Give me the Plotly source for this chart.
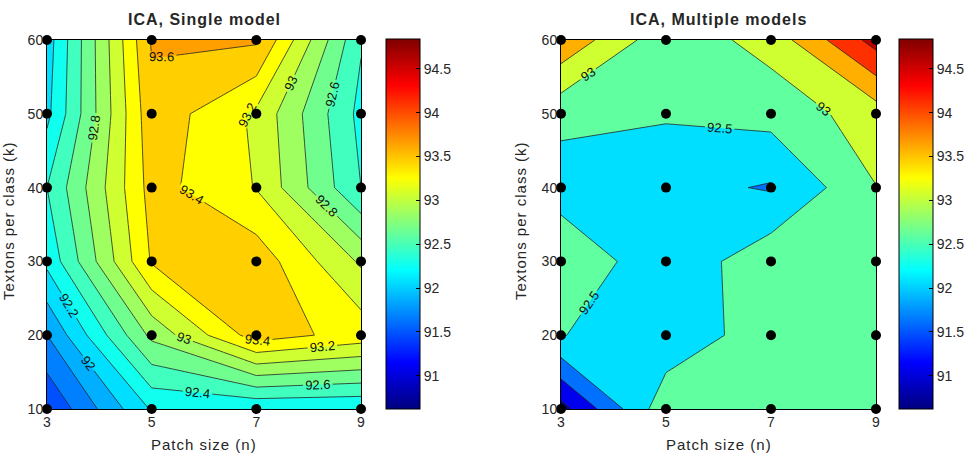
import math
import plotly.graph_objects as go

# ---------------- data ----------------
patch_sizes = [3, 5, 7, 9]
textons_per_class = [10, 20, 30, 40, 50, 60]

# rows = textons per class (10..60), columns = patch size (3,5,7,9)
single_model = [
    [91.41, 92.22, 92.22, 92.21],
    [91.80, 92.85, 93.50, 93.32],
    [92.25, 93.42, 93.52, 92.97],
    [92.40, 93.48, 93.19, 92.40],
    [92.15, 93.54, 93.16, 92.34],
    [92.10, 93.62, 93.63, 92.42],
]
multiple_models = [
    [90.80, 92.83, 92.70, 92.72],
    [92.52, 92.16, 92.77, 92.75],
    [92.94, 92.12, 92.84, 92.80],
    [92.24, 92.18, 91.95, 92.99],
    [92.65, 92.55, 92.68, 93.25],
    [93.90, 92.66, 93.20, 94.70],
]
colorbar_ticks = [91, 91.5, 92, 92.5, 93, 93.5, 94, 94.5]
color_min, color_max = 90.62, 94.84
titles = ["ICA, Single model", "ICA, Multiple models"]
x_title = "Patch size (n)"
y_title = "Textons per class (k)"

FONT = "Liberation Sans, Arial, Helvetica, sans-serif"
TXT = "#262626"
W, H = 972, 462


def clip01(v):
    return max(0.0, min(1.0, v))


def jet(t):
    r = clip01(1.5 - abs(4 * t - 3))
    g = clip01(1.5 - abs(4 * t - 2))
    b = clip01(1.5 - abs(4 * t - 1))
    return "rgb(%d,%d,%d)" % (round(r * 255), round(g * 255), round(b * 255))


def level_color(level):
    # MATLAB-like: 64-entry jet, region coloured from its lower level
    T = (level + 0.05 - color_min) / (color_max - color_min)
    i = int(math.floor(T * 64)) + 1
    i = max(1, min(64, i))
    return jet(i / 64.0)


def fill_scale(start, size, nlev):
    stops = []
    for k in range(nlev + 1):
        lev = start + (k - 1) * size
        stops.append([k / nlev, level_color(lev)])
    return stops


jet_scale = [[i / 64.0, jet(i / 64.0)] for i in range(65)]

# layout geometry (pixels)
plot_x = [(47, 361), (561, 876)]
plot_top, plot_bot = 40, 409
cbar_x = [386, 899]
cbar_top, cbar_bot = 39, 409

contour_specs = [
    (single_model, 91.4, 93.6, 0.2),
    (multiple_models, 91.0, 94.5, 0.5),
]

fig = go.Figure()
grid_x = [x for y in textons_per_class for x in patch_sizes]
grid_y = [y for y in textons_per_class for x in patch_sizes]

for idx, (z, start, end, size) in enumerate(contour_specs):
    xa = "x" if idx == 0 else "x2"
    ya = "y" if idx == 0 else "y2"
    nlev = int(math.floor((end + size * 1e-6 - start) / size)) + 1
    fig.add_trace(go.Contour(
        x=patch_sizes, y=textons_per_class, z=z,
        autocontour=False,
        contours=dict(start=start, end=end, size=size, coloring="fill",
                      showlabels=True,
                      labelfont=dict(size=13, color="#111111", family=FONT)),
        colorscale=fill_scale(start, size, nlev),
        showscale=False,
        line=dict(color="#262626", width=0.8, smoothing=0),
        hoverinfo="skip",
        xaxis=xa, yaxis=ya,
    ))
    # colorbar carrier
    fig.add_trace(go.Scatter(
        x=[patch_sizes[0]], y=[textons_per_class[0]], mode="markers",
        marker=dict(size=1, color=[92.0], colorscale=jet_scale,
                    cmin=color_min, cmax=color_max, showscale=True,
                    colorbar=dict(
                        x=cbar_x[idx] / W, xanchor="left", xpad=0,
                        y=(H - cbar_bot) / H, yanchor="bottom", ypad=0,
                        len=(cbar_bot - cbar_top) / H, lenmode="fraction",
                        thickness=34, thicknessmode="pixels",
                        outlinecolor="black", outlinewidth=1,
                        tickvals=colorbar_ticks,
                        ticktext=[("%g" % v) for v in colorbar_ticks],
                        ticks="inside", ticklen=4, tickcolor="black",
                        tickfont=dict(size=14, color=TXT, family=FONT),
                    )),
        showlegend=False, hoverinfo="skip",
        xaxis=xa, yaxis=ya,
    ))
    fig.add_trace(go.Scatter(
        x=grid_x, y=grid_y, mode="markers",
        marker=dict(color="black", size=10),
        cliponaxis=False, showlegend=False, hoverinfo="skip",
        xaxis=xa, yaxis=ya,
    ))

axis_common = dict(
    showline=True, linecolor="black", linewidth=1, mirror="ticks",
    ticks="inside", ticklen=4, tickcolor="black", showgrid=False,
    zeroline=False, automargin=False,
    tickfont=dict(size=14, color=TXT, family=FONT),
)
ydom = [(H - plot_bot) / H, (H - plot_top) / H]
layout = dict(
    width=W, height=H,
    margin=dict(l=0, r=0, t=0, b=0, pad=0, autoexpand=False),
    paper_bgcolor="white", plot_bgcolor="white", showlegend=False,
    font=dict(family=FONT, color=TXT),
)
for idx in range(2):
    sfx = "" if idx == 0 else "2"
    layout["xaxis" + sfx] = dict(
        axis_common, domain=[plot_x[idx][0] / W, plot_x[idx][1] / W],
        range=[patch_sizes[0], patch_sizes[-1]], tickvals=patch_sizes,
        anchor="y" + sfx)
    layout["yaxis" + sfx] = dict(
        axis_common, domain=ydom,
        range=[textons_per_class[0], textons_per_class[-1]],
        tickvals=textons_per_class, anchor="x" + sfx)

annotations = []
for idx in range(2):
    cx = (plot_x[idx][0] + plot_x[idx][1]) / 2 / W
    annotations.append(dict(
        text="<span style='letter-spacing:1px'><b>%s</b></span>" % titles[idx],
        x=cx, y=(H - 20) / H, xref="paper", yref="paper", showarrow=False,
        font=dict(size=16, color=TXT, family=FONT),
        xanchor="center", yanchor="middle"))
    annotations.append(dict(
        text="<span style='letter-spacing:1px'>%s</span>" % x_title,
        x=cx, y=(H - 444) / H, xref="paper", yref="paper", showarrow=False,
        font=dict(size=15, color=TXT, family=FONT),
        xanchor="center", yanchor="middle"))
    yx = 9 if idx == 0 else 521
    annotations.append(dict(
        text="<span style='letter-spacing:1px'>%s</span>" % y_title,
        x=yx / W, y=(H - 221) / H, xref="paper", yref="paper",
        showarrow=False, textangle=-90,
        font=dict(size=15, color=TXT, family=FONT),
        xanchor="center", yanchor="middle"))
layout["annotations"] = annotations

fig.update_layout(**layout)
fig.write_html("out.html")
